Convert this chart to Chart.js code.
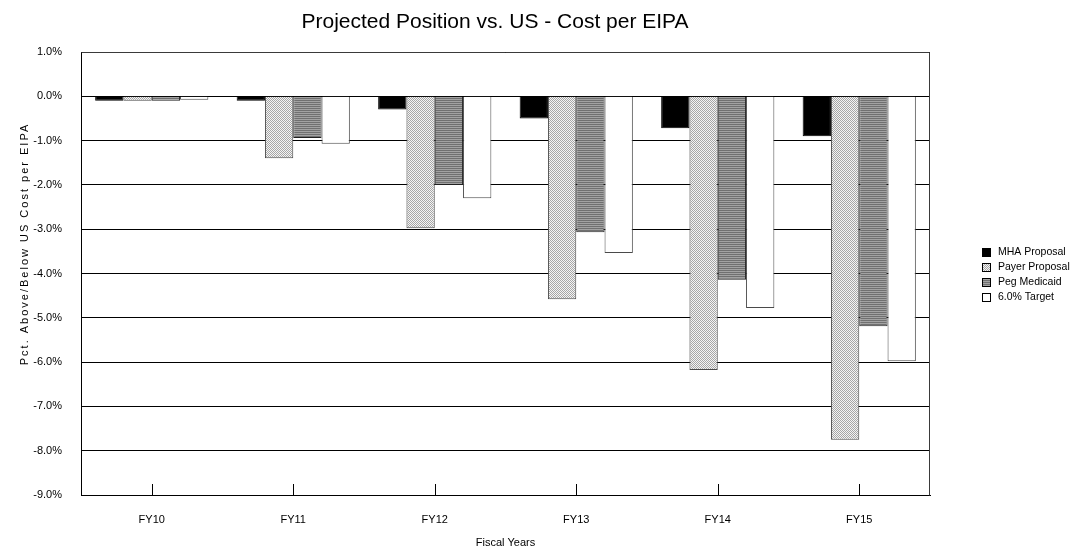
<!DOCTYPE html>
<html>
<head>
<meta charset="utf-8">
<script src="https://cdn.jsdelivr.net/npm/chart.js@4/dist/chart.umd.min.js"></script>
<style>
  html, body { margin: 0; padding: 0; background: #fff; }
  #wrap { width: 1073px; height: 548px; }
</style>
</head>
<body>
<div id="wrap"><canvas id="chart" width="1073" height="548"></canvas></div>
<script>
// Fiscal years on the category axis
const categories = ['FY10', 'FY11', 'FY12', 'FY13', 'FY14', 'FY15'];

// Percent above/below the US cost per EIPA, one array per scenario
const mhaProposal   = [-0.10, -0.10, -0.30, -0.50, -0.72, -0.90];
const payerProposal = [-0.10, -1.40, -2.98, -4.58, -6.18, -7.75];
const pegMedicaid   = [-0.10, -0.94, -2.00, -3.07, -4.14, -5.19];
const targetSixPct  = [-0.08, -1.07, -2.30, -3.54, -4.78, -5.98];

const seriesNames = ['MHA Proposal', 'Payer Proposal', 'Peg Medicaid', '6.0% Target'];

// Value axis range and step, in percent
const yMin = -9, yMax = 1, yStep = 1;

const FONT = '"Liberation Sans", Arial, Helvetica, sans-serif';

// Small repeating fills in the style of classic office chart patterns
function makePattern(w, h, paint) {
  const c = document.createElement('canvas');
  c.width = w; c.height = h;
  const g = c.getContext('2d');
  paint(g);
  return g.createPattern(c, 'repeat');
}
const dottedFill = makePattern(2, 2, g => {
  g.fillStyle = '#f4f4f4'; g.fillRect(0, 0, 2, 2);
  g.fillStyle = '#a6a6a6'; g.fillRect(0, 0, 1, 1); g.fillRect(1, 1, 1, 1);
});
const stripedFill = makePattern(2, 2, g => {
  g.fillStyle = '#707070'; g.fillRect(0, 0, 2, 1);
  g.fillStyle = '#a2a2a2'; g.fillRect(0, 1, 2, 1);
});

const seriesData = [mhaProposal, payerProposal, pegMedicaid, targetSixPct];
const fills = ['#000000', dottedFill, stripedFill, '#ffffff'];
const edges = ['#000000', '#4a4a4a', '#202020', '#4a4a4a'];

const datasets = seriesData.map((d, i) => ({
  label: seriesNames[i],
  data: d,
  backgroundColor: fills[i],
  borderColor: edges[i],
  borderWidth: 1,
  borderSkipped: 'start',
  categoryPercentage: 0.8,
  barPercentage: 1.0
}));

// Titles, frame, inward x ticks and the legend
const decorations = {
  id: 'decorations',
  afterDatasetsDraw(chart) {
    const { ctx, chartArea: a, scales: { x } } = chart;
    ctx.save();
    ctx.strokeStyle = '#000';
    ctx.lineWidth = 1;
    // inward tick marks at each category centre
    categories.forEach((_, i) => {
      const px = Math.round(x.getPixelForValue(i)) + 0.5;
      ctx.beginPath();
      ctx.moveTo(px, a.bottom - 11);
      ctx.lineTo(px, a.bottom);
      ctx.stroke();
    });
    // plot frame
    ctx.strokeStyle = '#000';
    ctx.beginPath();
    ctx.moveTo(Math.round(a.left) + 0.5, Math.round(a.top) + 0.5);
    ctx.lineTo(Math.round(a.left) + 0.5, Math.round(a.bottom) + 0.5);
    ctx.lineTo(Math.round(a.right) - 0.5, Math.round(a.bottom) + 0.5);
    ctx.stroke();
    ctx.strokeStyle = '#3a3a3a';
    ctx.beginPath();
    ctx.moveTo(Math.round(a.left) + 0.5, Math.round(a.top) + 0.5);
    ctx.lineTo(Math.round(a.right) - 0.5, Math.round(a.top) + 0.5);
    ctx.lineTo(Math.round(a.right) - 0.5, Math.round(a.bottom) + 0.5);
    ctx.stroke();
    ctx.restore();
  },
  afterDraw(chart) {
    const { ctx, chartArea: a } = chart;
    ctx.save();
    ctx.fillStyle = '#000';

    // chart title
    ctx.font = '21px ' + FONT;
    ctx.textAlign = 'center';
    ctx.textBaseline = 'alphabetic';
    ctx.fillText('Projected Position vs. US - Cost per EIPA', 495, 28);

    // value axis title, rotated
    ctx.save();
    ctx.translate(25, 244);
    ctx.rotate(-Math.PI / 2);
    ctx.font = '11px ' + FONT;
    ctx.textAlign = 'center';
    ctx.textBaseline = 'middle';
    if ('letterSpacing' in ctx) ctx.letterSpacing = '2px';
    ctx.fillText('Pct. Above/Below US Cost per EIPA', 0, 0);
    ctx.restore();

    // legend
    ctx.font = '10.5px ' + FONT;
    ctx.textAlign = 'left';
    ctx.textBaseline = 'middle';
    const lx = a.right + 52;
    chart.data.datasets.forEach((ds, i) => {
      const cy = 252 + i * 15;
      ctx.fillStyle = ds.backgroundColor;
      ctx.fillRect(lx, cy - 4, 8, 8);
      ctx.strokeStyle = '#000';
      ctx.lineWidth = 1;
      ctx.strokeRect(lx + 0.5, cy - 3.5, 8, 8);
      ctx.fillStyle = '#000';
      ctx.fillText(ds.label, lx + 16, cy + 0.5);
    });
    ctx.restore();
  }
};

new Chart(document.getElementById('chart'), {
  type: 'bar',
  data: { labels: categories, datasets },
  plugins: [decorations],
  options: {
    responsive: false,
    animation: false,
    devicePixelRatio: 1,
    layout: { padding: { top: 52, right: 143, bottom: 0, left: 0 } },
    plugins: {
      legend: { display: false },
      title: { display: false },
      tooltip: { enabled: false }
    },
    scales: {
      x: {
        grid: { display: false, drawTicks: false },
        border: { display: true, color: '#000', width: 1 },
        ticks: { color: '#000', padding: 18, font: { family: FONT, size: 11 } },
        title: {
          display: true,
          text: 'Fiscal Years',
          color: '#000',
          font: { family: FONT, size: 11, lineHeight: 1 },
          padding: { top: 0, bottom: 0 }
        },
        afterFit(scale) { scale.height = 53; }
      },
      y: {
        min: yMin,
        max: yMax,
        grid: { color: '#000', lineWidth: 1, drawTicks: false },
        border: { display: true, color: '#000', width: 1 },
        ticks: {
          stepSize: yStep,
          color: '#000',
          padding: 19,
          font: { family: FONT, size: 11 },
          callback: v => v.toFixed(1) + '%'
        },
        afterFit(scale) { scale.width = 81; }
      }
    }
  }
});
</script>
</body>
</html>
